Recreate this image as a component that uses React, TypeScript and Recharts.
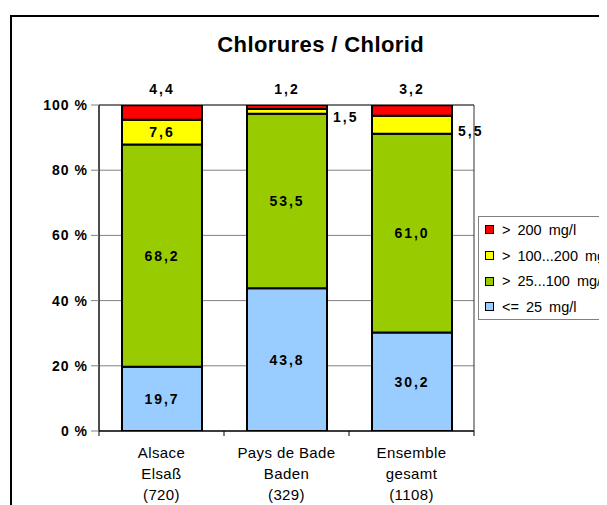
import React from 'react';
import { BarChart, Bar, XAxis, YAxis, CartesianGrid, Legend, LabelList, ReferenceArea } from 'recharts';

const regionsFr = ['Alsace', 'Pays de Bade', 'Ensemble'];
const regionsDe = ['Elsaß', 'Baden', 'gesamt'];
const sampleCounts = [720, 329, 1108];
const lowShare = [19.7, 43.8, 30.2];
const midShare = [68.2, 53.5, 61.0];
const highShare = [7.6, 1.5, 5.5];
const veryHighShare = [4.4, 1.2, 3.2];
const yTicks = [0, 20, 40, 60, 80, 100];
const seriesNames = ['<= 25 mg/l', '> 25...100 mg/l', '> 100...200 mg/l', '> 200 mg/l'];
const seriesColors = ['#99CCFF', '#99CC00', '#FFFF00', '#FF0000'];

const data = regionsFr.map((r, i) => ({
  name: r,
  low: lowShare[i],
  mid: midShare[i],
  high: highShare[i],
  veryHigh: veryHighShare[i],
}));

const FONT = '"Liberation Sans", Arial, sans-serif';
const W = 599;
const H = 497;
const M = { top: 97, right: 133, bottom: 0, left: 0 };
const Y_W = 91;
const X_H = 74;
const PLOT_W = W - M.left - M.right - Y_W;

const fmt = (v: number) => v.toFixed(1).replace('.', ',');

const labelStyle = {
  fontFamily: FONT,
  fontSize: 14,
  fontWeight: 'bold' as const,
  fill: '#000',
  letterSpacing: 2,
};

const InsideLabel = (p: any) => {
  const { x, y, width, height, value } = p;
  if (value == null) return null;
  const v = Number(value);
  if (height < 20) {
    return (
      <text x={x + width + 6} y={y + height / 2 + 11} textAnchor="start" style={labelStyle}>
        {fmt(v)}
      </text>
    );
  }
  return (
    <text x={x + width / 2} y={y + height / 2 + 5} textAnchor="middle" style={labelStyle}>
      {fmt(v)}
    </text>
  );
};

const TopLabel = (p: any) => {
  const { x, y, width, value } = p;
  if (value == null) return null;
  return (
    <text x={x + width / 2} y={y - 11} textAnchor="middle" style={labelStyle}>
      {fmt(Number(value))}
    </text>
  );
};

const XTick = (props: any) => {
  const { x, y, payload, index } = props;
  const i = payload && payload.index != null ? payload.index : index;
  const half = PLOT_W / regionsFr.length / 2;
  const ts = { fontFamily: FONT, fontSize: 15, fill: '#000', letterSpacing: 0.4 };
  return (
    <g>
      <line x1={x - half} x2={x - half} y1={y} y2={y + 5} stroke="#000" strokeWidth={1} />
      {i === regionsFr.length - 1 && (
        <line x1={x + half} x2={x + half} y1={y} y2={y + 5} stroke="#000" strokeWidth={1} />
      )}
      <text x={x} y={y + 27} textAnchor="middle" style={ts}>{regionsFr[i]}</text>
      <text x={x} y={y + 48} textAnchor="middle" style={ts}>{regionsDe[i]}</text>
      <text x={x} y={y + 69} textAnchor="middle" style={ts}>{`(${sampleCounts[i]})`}</text>
    </g>
  );
};

const LegendBox = (props: any) => {
  const items = [...(props.payload || [])].sort(
    (a: any, b: any) => seriesNames.indexOf(b.value) - seriesNames.indexOf(a.value)
  );
  return (
    <div
      style={{
        border: '1px solid #808080',
        background: '#fff',
        width: 170,
        height: 104,
        boxSizing: 'border-box',
        paddingTop: 0,
        fontFamily: FONT,
      }}
    >
      {items.map((it: any, k: number) => (
        <div key={k} style={{ display: 'flex', alignItems: 'center', height: 25.7 }}>
          <span
            style={{
              display: 'inline-block',
              width: 7,
              height: 7,
              border: '1px solid #000',
              background: it.color,
              marginLeft: 6,
              marginRight: 8,
              flex: 'none',
            }}
          />
          <span style={{ fontSize: 14.5, color: '#000', letterSpacing: 0, wordSpacing: 3, whiteSpace: 'nowrap' }}>{it.value}</span>
        </div>
      ))}
    </div>
  );
};

export default function App() {
  return (
    <div style={{ position: 'relative', width: W, height: H, overflow: 'hidden', background: '#fff', fontFamily: FONT }}>
      <div
        style={{
          position: 'absolute',
          left: 2,
          top: 7,
          width: 900,
          height: 900,
          border: '2px solid #000',
          boxSizing: 'border-box',
        }}
      />
      <BarChart width={W} height={H} data={data} margin={M} barSize={80}>
        <CartesianGrid vertical={false} stroke="#808080" />
        <ReferenceArea y1={0} y2={100} fill="none" stroke="#333" strokeWidth={1} />
        <XAxis
          dataKey="name"
          height={X_H}
          tickSize={0}
          tickMargin={0}
          tickLine={false}
          axisLine={{ stroke: '#000' }}
          tick={<XTick />}
          interval={0}
        />
        <YAxis
          domain={[0, 100]}
          ticks={yTicks}
          allowDataOverflow
          width={Y_W}
          tickSize={8}
          tickMargin={3}
          axisLine={{ stroke: '#000' }}
          tickLine={{ stroke: '#808080' }}
          tickFormatter={(v: number) => `${v} %`}
          tick={{ fill: '#000', fontSize: 14, fontWeight: 'bold', fontFamily: FONT, letterSpacing: 1 } as any}
        />
        <Legend
          layout="vertical"
          align="center"
          verticalAlign="middle"
          content={<LegendBox />}
          wrapperStyle={{ position: 'absolute', left: 470, top: 208, width: 170 }}
        />
        <Bar dataKey="low" name={seriesNames[0]} stackId="a" fill={seriesColors[0]} stroke="#000" strokeWidth={2} isAnimationActive={false}>
          <LabelList dataKey="low" content={<InsideLabel />} />
        </Bar>
        <Bar dataKey="mid" name={seriesNames[1]} stackId="a" fill={seriesColors[1]} stroke="#000" strokeWidth={2} isAnimationActive={false}>
          <LabelList dataKey="mid" content={<InsideLabel />} />
        </Bar>
        <Bar dataKey="high" name={seriesNames[2]} stackId="a" fill={seriesColors[2]} stroke="#000" strokeWidth={2} isAnimationActive={false}>
          <LabelList dataKey="high" content={<InsideLabel />} />
        </Bar>
        <Bar dataKey="veryHigh" name={seriesNames[3]} stackId="a" fill={seriesColors[3]} stroke="#000" strokeWidth={2} isAnimationActive={false}>
          <LabelList dataKey="veryHigh" content={<TopLabel />} />
        </Bar>
      </BarChart>
      <svg width={W} height={70} style={{ position: 'absolute', left: 0, top: 0, pointerEvents: 'none' }}>
        <text x={312.7} y={43.7} textAnchor="middle" fontFamily={FONT} fontSize={22} fontWeight="bold" letterSpacing={0.4} fill="#000">
          Chlorures / Chlorid
        </text>
      </svg>
    </div>
  );
}
